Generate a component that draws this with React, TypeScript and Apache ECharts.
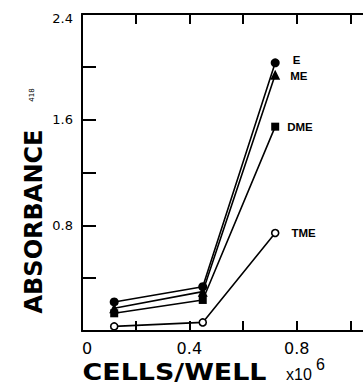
import React, { useEffect, useRef } from "react";
import * as echarts from "echarts";

const xValues = [0.12, 0.45, 0.72];
const seriesNames = ["E", "ME", "DME", "TME"];
const eValues = [0.22, 0.335, 2.03];
const meValues = [0.172, 0.298, 1.94];
const dmeValues = [0.134, 0.235, 1.547];
const tmeValues = [0.035, 0.065, 0.742];
const yTickLabels = ["0.8", "1.6", "2.4"];
const xTickLabels = ["0", "0.4", "0.8"];

const seriesValues = [eValues, meValues, dmeValues, tmeValues];
const symbols = ["circle", "triangle", "rect", "circle"];
const symbolSizes = [9, 10, 8, 7];
const labelDistances = [13, 10, 8, 12];
const labelOffsets = [[0, -3], [0, 1], [0, 0], [0, 0]];

export default function App() {
  const ref = useRef<HTMLDivElement>(null);
  useEffect(() => {
    if (!ref.current) return;
    const chart = echarts.init(ref.current, null, { renderer: "svg" });
    const series = seriesNames.map((name, si) => ({
      type: "line",
      name,
      symbol: symbols[si],
      symbolSize: symbolSizes[si],
      showAllSymbol: true,
      lineStyle: { color: "#000", width: 1.6 },
      itemStyle: {
        color: si === 3 ? "#fff" : "#000",
        borderColor: "#000",
        borderWidth: si === 3 ? 1.6 : 0,
      },
      emphasis: { disabled: true },
      data: xValues.map((x, i) => ({
        value: [x, seriesValues[si][i]],
        label:
          i === xValues.length - 1
            ? {
                show: true,
                position: "right",
                distance: labelDistances[si],
                offset: labelOffsets[si],
                formatter: name,
                color: "#000",
                fontFamily: "Liberation Sans",
                fontWeight: "bold",
                fontSize: 11.5,
              }
            : { show: false },
      })),
      z: si === 3 ? 3 : 4,
    }));
    chart.setOption({
      animation: false,
      grid: { left: 82, top: 14, bottom: 55, right: 6 },
      xAxis: [
        {
          type: "value",
          min: 0,
          max: 1.2,
          interval: 0.2,
          position: "bottom",
          splitLine: { show: false },
          axisLine: { show: true, lineStyle: { color: "#000", width: 2 } },
          axisTick: { show: true, inside: true, length: 10, lineStyle: { color: "#000", width: 2 } },
          axisLabel: {
            color: "#000",
            fontFamily: "DejaVu Sans",
            fontSize: 16,
            margin: 9,
            alignMinLabel: "left",
            formatter: (v: number) => {
              const s = v === 0 ? "0" : v.toFixed(1);
              return xTickLabels.includes(s) ? s : "";
            },
          },
        },
        {
          type: "value",
          min: 0,
          max: 1.2,
          interval: 0.2,
          position: "top",
          splitLine: { show: false },
          axisLine: { show: true, lineStyle: { color: "#000", width: 2 } },
          axisTick: { show: true, inside: true, length: 10, lineStyle: { color: "#000", width: 2 } },
          axisLabel: { show: false },
        },
      ],
      yAxis: {
        type: "value",
        min: 0,
        max: 2.4,
        interval: 0.4,
        splitLine: { show: false },
        axisLine: { show: true, lineStyle: { color: "#000", width: 2 } },
        axisTick: { show: true, inside: true, length: 14, lineStyle: { color: "#000", width: 2 } },
        axisLabel: {
          color: "#000",
          fontFamily: "DejaVu Sans",
          fontSize: 13,
          margin: 9,
          formatter: (v: number) => {
            const s = v.toFixed(1);
            if (!yTickLabels.includes(s)) return "";
            return s === "2.4" ? "{t|" + s + "}" : s;
          },
          rich: {
            t: { fontFamily: "DejaVu Sans", fontSize: 13, color: "#000", padding: [9, 0, 0, 0] },
          },
        },
      },
      graphic: [
        {
          type: "text",
          x: 33.5,
          y: 221.5,
          rotation: Math.PI / 2,
          style: {
            text: "ABSORBANCE",
            fontFamily: "DejaVu Sans",
            fontWeight: "bold",
            fontSize: 24,
            fill: "#000",
            align: "center",
            verticalAlign: "middle",
          },
        },
        {
          type: "text",
          x: 32,
          y: 95,
          rotation: Math.PI / 2,
          style: {
            text: "418",
            fontFamily: "DejaVu Sans",
            fontSize: 7,
            fill: "#000",
            align: "center",
            verticalAlign: "middle",
          },
        },
        {
          type: "text",
          x: 174.5,
          y: 372,
          scaleX: 1.17,
          style: {
            text: "CELLS/WELL",
            fontFamily: "DejaVu Sans",
            fontWeight: "bold",
            fontSize: 23,
            fill: "#000",
            align: "center",
            verticalAlign: "middle",
          },
        },
        {
          type: "text",
          x: 286,
          y: 382,
          style: {
            text: "x10",
            fontFamily: "Liberation Sans",
            fontSize: 16,
            fill: "#000",
            align: "left",
            verticalAlign: "bottom",
          },
        },
        {
          type: "text",
          x: 316,
          y: 372,
          style: {
            text: "6",
            fontFamily: "Liberation Sans",
            fontSize: 16,
            fill: "#000",
            align: "left",
            verticalAlign: "bottom",
          },
        },
      ],
      series,
    });
    return () => chart.dispose();
  }, []);
  return (
    <div
      style={{ position: "fixed", left: 0, top: 0, width: 363, height: 386, overflow: "hidden", background: "#fff" }}
    >
      <div ref={ref} style={{ width: 410, height: 386 }} />
    </div>
  );
}
